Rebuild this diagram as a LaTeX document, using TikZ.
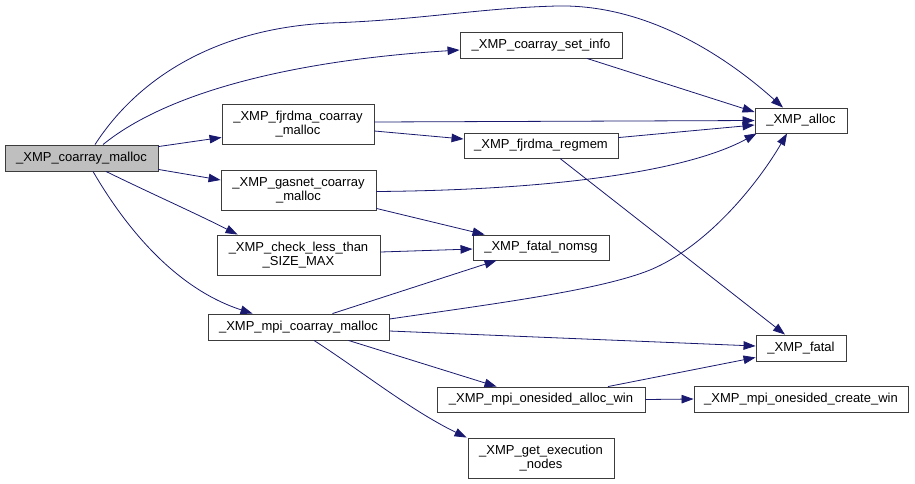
\documentclass[tikz,border=0pt]{standalone}
\usepackage{fontspec}
\setmainfont{Liberation Sans}
\usetikzlibrary{arrows.meta,calc}
\definecolor{edgeblue}{RGB}{25,25,112}
\definecolor{boxline}{RGB}{60,60,60}
\definecolor{rootfill}{RGB}{191,191,191}
\begin{document}
\begin{tikzpicture}[x=1pt,y=-1pt,
  fn/.style={draw=boxline,line width=0.9pt,fill=white,inner sep=0pt,align=center,
    font=\fontsize{13}{14}\selectfont},
  root/.style={fn,fill=rootfill},
  call/.style={draw=edgeblue,line width=0.8pt,-{Triangle[length=12pt,width=8.5pt]}}]
\useasboundingbox (0,0) rectangle (915,483);
\fill[white] (0,0) rectangle (915,483);

% nodes
\node[root,minimum width=153pt,minimum height=26pt] (cm) at (81.5,158) {\_XMP\_coarray\_malloc};
\node[fn,minimum width=162pt,minimum height=26pt] (setinfo) at (541,45) {\_XMP\_coarray\_set\_info};
\node[fn,minimum width=152pt,minimum height=40pt] (fjc) at (298,124) {\_XMP\_fjrdma\_coarray\\\_malloc};
\node[fn,minimum width=92pt,minimum height=25pt] (alloc) at (801,120.5) {\_XMP\_alloc};
\node[fn,minimum width=154pt,minimum height=25pt] (regmem) at (541,145.5) {\_XMP\_fjrdma\_regmem};
\node[fn,minimum width=155pt,minimum height=40pt] (gas) at (298.5,190) {\_XMP\_gasnet\_coarray\\\_malloc};
\node[fn,minimum width=163pt,minimum height=40pt] (chk) at (298.5,255) {\_XMP\_check\_less\_than\\\_SIZE\_MAX};
\node[fn,minimum width=136pt,minimum height=25pt] (nomsg) at (541,247.5) {\_XMP\_fatal\_nomsg};
\node[fn,minimum width=181pt,minimum height=26pt] (mpi) at (298.5,327) {\_XMP\_mpi\_coarray\_malloc};
\node[fn,minimum width=90pt,minimum height=26pt] (fatal) at (801,348) {\_XMP\_fatal};
\node[fn,minimum width=208pt,minimum height=25pt] (allocwin) at (541,399.5) {\_XMP\_mpi\_onesided\_alloc\_win};
\node[fn,minimum width=214pt,minimum height=26pt] (createwin) at (801,399) {\_XMP\_mpi\_onesided\_create\_win};
\node[fn,minimum width=146pt,minimum height=40pt] (getexec) at (541,458) {\_XMP\_get\_execution\\\_nodes};

% edges from _XMP_coarray_malloc
\draw[call] ($(cm.north)+(13.5,0)$) .. controls (140,75) and (220,28) .. (330,23)
  .. controls (420,20) and (480,8) .. (557,6)
  .. controls (650,4) and (730,60) .. ($(alloc.north)+(-18,0)$);
\draw[call] ($(cm.north)+(21.5,0)$) .. controls (170,90) and (300,60) .. ($(setinfo.west)+(0,5)$);
\draw[call] ($(cm.north east)+(0,2)$) -- ($(fjc.south west)+(0,-7)$);
\draw[call] ($(cm.south east)+(0,-2)$) -- ($(gas.west)+(0,-10)$);
\draw[call] ($(cm.south)+(24.5,0)$) .. controls (150,193) and (195,213) .. ($(chk.north west)+(21,0)$);
\draw[call] ($(cm.south)+(11.5,0)$) .. controls (130,235) and (180,290) .. ($(mpi.north west)+(45,0)$);

% second level
\draw[call] ($(setinfo.south)+(46,0)$) -- ($(alloc.west)+(0,-8.5)$);
\draw[call] ($(fjc.east)+(0,-2)$) -- (alloc.west);
\draw[call] ($(fjc.east)+(0,7)$) -- ($(regmem.west)+(0,-6.5)$);
\draw[call] ($(regmem.north east)+(0,5)$) -- ($(alloc.west)+(0,4.5)$);
\draw[call] ($(gas.east)+(0,1.5)$) .. controls (560,190) and (690,170) .. ($(alloc.south west)+(2,0)$);
\draw[call] ($(gas.south east)+(0,-2)$) -- ($(nomsg.north west)+(12,0)$);
\draw[call] ($(chk.east)+(0,-3)$) -- ($(nomsg.west)+(0,1.5)$);
\draw[call] ($(regmem.south)+(19,0)$) -- ($(fatal.north)+(-16,0)$);
\draw[call] ($(mpi.north)+(34,0)$) -- ($(nomsg.south west)+(24,0)$);
\draw[call] ($(mpi.east)+(0,-8)$) .. controls (500,303) and (600,290) .. (650,270)
  .. controls (710,245) and (760,180) .. ($(alloc.south)+(-14,0)$);
\draw[call] ($(mpi.east)+(0,4)$) -- ($(fatal.west)+(0,-2)$);
\draw[call] ($(mpi.south)+(50,0)$) -- ($(allocwin.north west)+(60,0)$);
\draw[call] ($(mpi.south)+(15.5,0)$) .. controls (360,370) and (410,410) .. ($(getexec.north west)+(-1,0)$);
\draw[call] ($(allocwin.north)+(67,0)$) -- ($(fatal.south west)+(0,-4)$);
\draw[call] (allocwin.east) -- (createwin.west);
\end{tikzpicture}
\end{document}
